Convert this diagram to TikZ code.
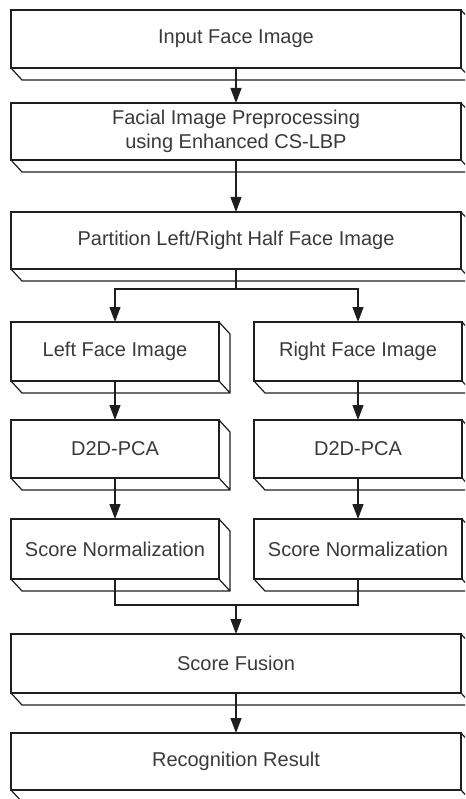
\documentclass[tikz,border=0pt]{standalone}
\usepackage{fontspec}
\setmainfont{Liberation Sans}
\usetikzlibrary{arrows.meta}
\definecolor{linec}{HTML}{1E1E1E}
\definecolor{textc}{HTML}{3A3A3A}
\tikzset{
  stagebox/.style 2 args={draw=linec, line width=1.2pt, fill=white, inner sep=0pt, outer sep=0pt,
    minimum width=#1, minimum height=#2, text=textc, align=center,
    font=\fontsize{20}{24}\selectfont},
  depthline/.style={draw=linec, line width=1.2pt, line join=miter},
  conn/.style={draw=linec, line width=1.2pt},
  arr/.style={conn, -{Triangle[width=11pt,length=15pt]}}
}
\begin{document}
\begin{tikzpicture}[x=1pt,y=-1pt]
\useasboundingbox (0,0) rectangle (465,799);
\clip (0,0) rectangle (465,799);
\node[stagebox={450pt}{58pt}] (n1) at (236,39) {Input Face Image};
\node[stagebox={450pt}{57pt}] (n2) at (236,131.5) {Facial Image Preprocessing\\using Enhanced CS-LBP};
\node[stagebox={450pt}{57pt}] (n3) at (236,240.5) {Partition Left/Right Half Face Image};
\node[stagebox={208pt}{59pt}] (l1) at (115,351.5) {Left Face Image};
\node[stagebox={208pt}{58pt}] (l2) at (115,449) {D2D-PCA};
\node[stagebox={208pt}{60pt}] (l3) at (115,549) {Score Normalization};
\node[stagebox={208pt}{59pt}] (r1) at (358,351.5) {Right Face Image};
\node[stagebox={208pt}{58pt}] (r2) at (358,449) {D2D-PCA};
\node[stagebox={208pt}{60pt}] (r3) at (358,549) {Score Normalization};
\node[stagebox={450pt}{59pt}] (sf) at (236,663.5) {Score Fusion};
\node[stagebox={450pt}{57pt}] (rr) at (236,761.5) {Recognition Result};
\foreach \n in {n1,n2,n3,l1,l2,l3,r1,r2,r3,sf,rr}{
  \draw[depthline] (\n.south west) -- ++(11,12) -| ([shift={(11,12)}]\n.north east) -- (\n.north east)
    (\n.south east) -- ++(11,12);
}
\draw[arr] (n1.south) -- (n2.north);
\draw[arr] (n2.south) -- (n3.north);
\draw[conn] (n3.south) -- ++(0,20) coordinate (split);
\draw[arr] (split) -| (l1.north);
\draw[arr] (split) -| (r1.north);
\draw[arr] (l1.south) -- (l2.north);
\draw[arr] (r1.south) -- (r2.north);
\draw[arr] (l2.south) -- (l3.north);
\draw[arr] (r2.south) -- (r3.north);
\draw[conn] (l3.south) -- ++(0,26) -| (r3.south);
\coordinate (join) at (236,605);
\draw[arr] (join) -- (sf.north);
\draw[arr] (sf.south) -- (rr.north);
\end{tikzpicture}
\end{document}
